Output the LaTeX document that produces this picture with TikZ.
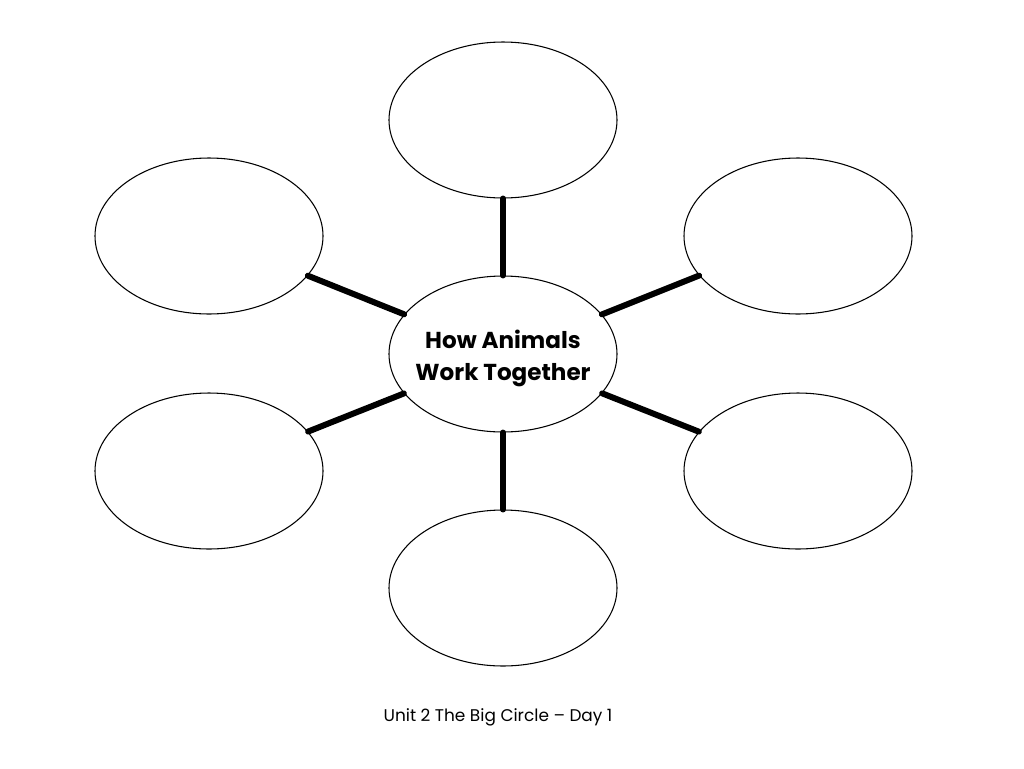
\documentclass[tikz,border=0pt]{standalone}
\usepackage{fontspec}
\setmainfont{Poppins}
\usetikzlibrary{shapes.geometric}
\usetikzlibrary{positioning}

\tikzset{
  bubble/.style={ellipse,draw,line width=0.8pt,minimum width=171pt,minimum height=117pt,inner sep=0pt},
  spoke/.style={line width=4.5pt,line cap=round},
  hubtext/.style={font=\fontsize{17.3}{24}\selectfont\bfseries,align=center},
  caption/.style={font=\fontsize{12.7}{16}\selectfont}
}

\begin{document}
\begin{tikzpicture}[x=0.75pt,y=-0.75pt]
\useasboundingbox (0,0) rectangle (1024,768);

% centre and the six bubbles round it
\node[bubble,label={[hubtext,yshift=-3pt]center:How Animals\\Work Together}] (hub) at (503,354) {};
\node[bubble] (top) at (503,120) {};
\node[bubble] (bottom) at (503,588) {};
\node[bubble] (upleft) at (209,236) {};
\node[bubble] (upright) at (798,236) {};
\node[bubble] (lowleft) at (209,471) {};
\node[bubble] (lowright) at (798,471) {};

\draw[spoke] (hub) -- (top);
\draw[spoke] (hub) -- (bottom);
\draw[spoke] (hub) -- (upleft);
\draw[spoke] (hub) -- (upright);
\draw[spoke] (hub) -- (lowleft);
\draw[spoke] (hub) -- (lowright);

\node[caption] (title) at (498,717) {Unit 2 The Big Circle – Day 1};
\end{tikzpicture}
\end{document}
